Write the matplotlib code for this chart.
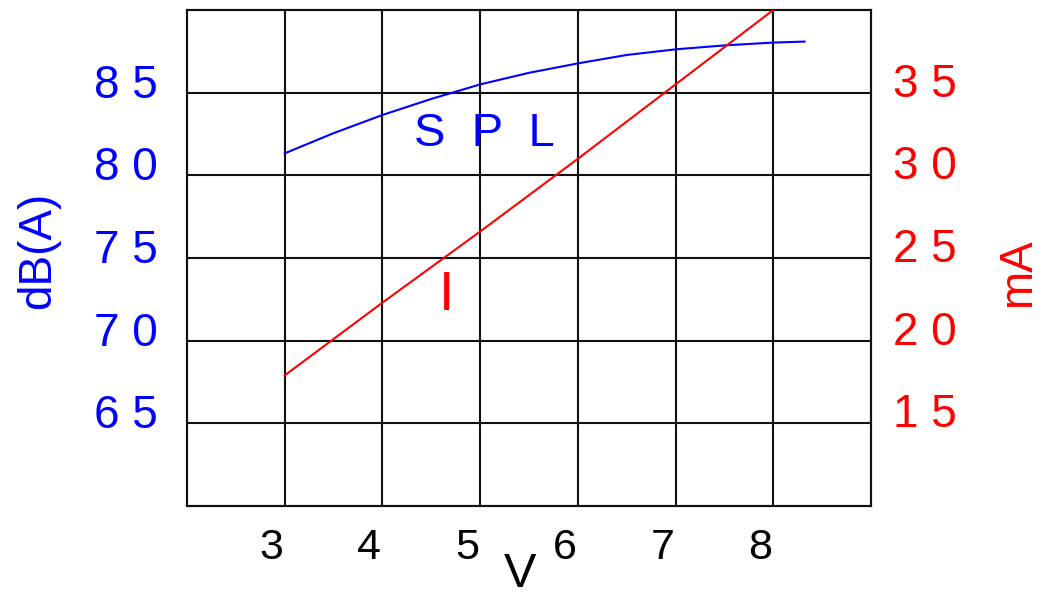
import matplotlib
matplotlib.use("Agg")
import matplotlib.pyplot as plt
import matplotlib.transforms as mtransforms

# Data
spl_v = [3.0, 3.5, 4.0, 4.5, 5.0, 5.5, 6.0, 6.5, 7.0, 7.5, 8.0, 8.32]
spl_db = [81.33, 82.55, 83.65, 84.62, 85.5, 86.2, 86.77, 87.28, 87.62, 87.86, 88.03, 88.09]

cur_v = [3.0, 4.0, 5.0, 6.0, 7.0, 8.0]
cur_ma = [17.9, 22.3, 26.6, 31.0, 35.5, 40.0]

x_ticks = [3, 4, 5, 6, 7, 8]
x_ticklabels = ["3", "4", "5", "6", "7", "8"]
left_ticks = [65, 70, 75, 80, 85]
left_ticklabels = ["6 5", "7 0", "7 5", "8 0", "8 5"]
right_ticks = [15, 20, 25, 30, 35]
right_ticklabels = ["1 5", "2 0", "2 5", "3 0", "3 5"]

plt.rcParams['font.family'] = ['Liberation Sans', 'DejaVu Sans']

W, H, DPI = 1047, 601, 100
fig = plt.figure(figsize=(W / DPI, H / DPI), dpi=DPI)
ax = fig.add_axes([187 / W, (H - 506) / H, (871 - 187) / W, (506 - 10) / H])
ax2 = ax.twinx()

BLUE = '#0000ff'
RED = '#ff0000'
GRID = '#111111'

ax.set_xlim(2, 9)
ax.set_ylim(60, 90)
ax2.set_ylim(10, 40)

ax.set_xticks(x_ticks)
ax.set_xticklabels(x_ticklabels, fontsize=31, color='black')
ax.set_yticks(left_ticks)
ax.set_yticklabels(left_ticklabels, fontsize=33, color=BLUE)
ax2.set_yticks(right_ticks)
ax2.set_yticklabels(right_ticklabels, fontsize=33, color=RED)

ax.tick_params(axis='both', length=0)
ax.tick_params(axis='x', pad=16)
ax.tick_params(axis='y', pad=21)
ax2.tick_params(axis='y', length=0, pad=16)

ax.grid(True, color=GRID, linewidth=1.5)
for a in (ax, ax2):
    for s in a.spines.values():
        s.set_color(GRID)
        s.set_linewidth(1.5)

# small offsets seen in the reference label placement
off_x = mtransforms.ScaledTranslation(-13 / DPI, 0, fig.dpi_scale_trans)
for lbl in ax.get_xticklabels():
    lbl.set_transform(lbl.get_transform() + off_x)
off_y = mtransforms.ScaledTranslation(0, 12 / DPI, fig.dpi_scale_trans)
for lbl in ax.get_yticklabels():
    lbl.set_transform(lbl.get_transform() + off_y)
off_y2 = mtransforms.ScaledTranslation(0, 13 / DPI, fig.dpi_scale_trans)
for lbl in ax2.get_yticklabels():
    lbl.set_transform(lbl.get_transform() + off_y2)

ax.plot(spl_v, spl_db, color=BLUE, linewidth=1.5, zorder=5)
ax2.plot(cur_v, cur_ma, color=RED, linewidth=1.5, zorder=5)

ax.text(5.04, 82.5, "S  P  L", color=BLUE, fontsize=34, ha='center', va='center', zorder=6)
ax2.text(4.66, 22.7, "I", color=RED, fontsize=40, ha='center', va='center', zorder=6)

ax.set_xlabel("V", fontsize=35, color='black')
ax.xaxis.set_label_coords(0.487, -0.093)
ax.set_ylabel("dB(A)", fontsize=33, color=BLUE)
ax.yaxis.set_label_coords(-0.186, 0.516)
ax2.set_ylabel("mA", fontsize=33, color=RED)
ax2.yaxis.set_label_coords(1.183, 0.47)

fig.savefig("out.png", dpi=DPI)
